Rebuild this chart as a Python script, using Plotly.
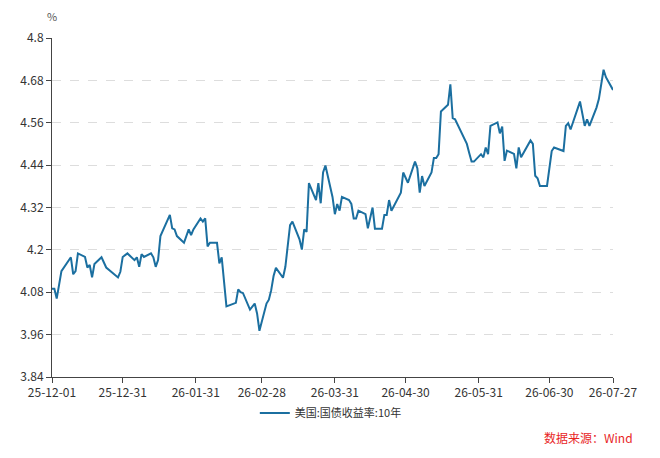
import plotly.graph_objects as go

# US 10Y treasury yield
dates = [
    '2025-12-01', '2025-12-02', '2025-12-03', '2025-12-04', '2025-12-05', '2025-12-09',
    '2025-12-10', '2025-12-11', '2025-12-12', '2025-12-15', '2025-12-16', '2025-12-17',
    '2025-12-18', '2025-12-19', '2025-12-22', '2025-12-24', '2025-12-29', '2025-12-30',
    '2025-12-31', '2026-01-02', '2026-01-05', '2026-01-06', '2026-01-07', '2026-01-08',
    '2026-01-09', '2026-01-12', '2026-01-13', '2026-01-14', '2026-01-15', '2026-01-16',
    '2026-01-20', '2026-01-21', '2026-01-22', '2026-01-23', '2026-01-26', '2026-01-28',
    '2026-01-29', '2026-01-30', '2026-02-02', '2026-02-03', '2026-02-04', '2026-02-05',
    '2026-02-06', '2026-02-09', '2026-02-10', '2026-02-11', '2026-02-13', '2026-02-17',
    '2026-02-18', '2026-02-19', '2026-02-20', '2026-02-23', '2026-02-25', '2026-02-26',
    '2026-02-27', '2026-03-02', '2026-03-03', '2026-03-04', '2026-03-05', '2026-03-06',
    '2026-03-09', '2026-03-10', '2026-03-12', '2026-03-13', '2026-03-16', '2026-03-17',
    '2026-03-18', '2026-03-19', '2026-03-20', '2026-03-23', '2026-03-24', '2026-03-25',
    '2026-03-26', '2026-03-27', '2026-03-30', '2026-03-31', '2026-04-01', '2026-04-02',
    '2026-04-03', '2026-04-06', '2026-04-07', '2026-04-08', '2026-04-09', '2026-04-10',
    '2026-04-13', '2026-04-14', '2026-04-16', '2026-04-17', '2026-04-20', '2026-04-21',
    '2026-04-22', '2026-04-23', '2026-04-24', '2026-04-28', '2026-04-29', '2026-05-01',
    '2026-05-04', '2026-05-05', '2026-05-06', '2026-05-07', '2026-05-08', '2026-05-11',
    '2026-05-12', '2026-05-13', '2026-05-14', '2026-05-15', '2026-05-18', '2026-05-19',
    '2026-05-20', '2026-05-21', '2026-05-26', '2026-05-27', '2026-05-28', '2026-05-29',
    '2026-06-01', '2026-06-02', '2026-06-03', '2026-06-04', '2026-06-05', '2026-06-08',
    '2026-06-09', '2026-06-10', '2026-06-11', '2026-06-12', '2026-06-15', '2026-06-16',
    '2026-06-17', '2026-06-18', '2026-06-22', '2026-06-23', '2026-06-24', '2026-06-25',
    '2026-06-26', '2026-06-29', '2026-06-30', '2026-07-01', '2026-07-02', '2026-07-06',
    '2026-07-07', '2026-07-08', '2026-07-09', '2026-07-13', '2026-07-15', '2026-07-16',
    '2026-07-17', '2026-07-20', '2026-07-21', '2026-07-23', '2026-07-24', '2026-07-27',
]
yield_10y = [
    4.090, 4.090, 4.062, 4.105, 4.140, 4.179,
    4.131, 4.140, 4.190, 4.180, 4.150, 4.157,
    4.122, 4.160, 4.179, 4.150, 4.122, 4.138,
    4.180, 4.190, 4.171, 4.179, 4.152, 4.188,
    4.180, 4.190, 4.179, 4.152, 4.171, 4.239,
    4.299, 4.261, 4.258, 4.239, 4.220, 4.258,
    4.242, 4.258, 4.289, 4.280, 4.289, 4.210,
    4.220, 4.220, 4.162, 4.179, 4.040, 4.050,
    4.088, 4.080, 4.078, 4.031, 4.048, 4.020,
    3.971, 4.048, 4.059, 4.086, 4.126, 4.149,
    4.121, 4.152, 4.270, 4.280, 4.230, 4.201,
    4.258, 4.251, 4.389, 4.341, 4.389, 4.332,
    4.419, 4.439, 4.350, 4.301, 4.330, 4.311,
    4.350, 4.341, 4.330, 4.289, 4.289, 4.311,
    4.301, 4.261, 4.320, 4.260, 4.260, 4.299,
    4.299, 4.341, 4.311, 4.362, 4.419, 4.390,
    4.450, 4.431, 4.362, 4.409, 4.381, 4.419,
    4.460, 4.460, 4.471, 4.592, 4.611, 4.669,
    4.573, 4.570, 4.500, 4.474, 4.450, 4.450,
    4.471, 4.462, 4.490, 4.471, 4.551, 4.561,
    4.530, 4.549, 4.452, 4.481, 4.472, 4.431,
    4.490, 4.462, 4.510, 4.500, 4.410, 4.403,
    4.381, 4.381, 4.440, 4.480, 4.490, 4.480,
    4.551, 4.559, 4.541, 4.620, 4.551, 4.570,
    4.551, 4.603, 4.627, 4.710, 4.689, 4.653,
]

x_tick_dates = ['2025-12-01', '2025-12-31', '2026-01-31', '2026-02-28', '2026-03-31',
                '2026-04-30', '2026-05-31', '2026-06-30', '2026-07-27']
x_tick_labels = ['25-12-01', '25-12-31', '26-01-31', '26-02-28', '26-03-31',
                 '26-04-30', '26-05-31', '26-06-30', '26-07-27']
y_ticks = [3.84, 3.96, 4.08, 4.2, 4.32, 4.44, 4.56, 4.68, 4.8]
y_tick_labels = ['3.84', '3.96', '4.08', '4.2', '4.32', '4.44', '4.56', '4.68', '4.8']

font_family = 'Noto Sans CJK SC, Noto Sans, sans-serif'
axis_color = '#444444'

fig = go.Figure()
fig.add_trace(go.Scatter(
    x=dates, y=yield_10y, mode='lines', name='美国:国债收益率:10年',
    line=dict(color='#1b6fa0', width=2),
))

# page body adds an 8px offset, so margins are shifted to match the reference
fig.update_layout(
    width=660, height=458,
    margin=dict(l=40, r=55, t=30, b=89),
    plot_bgcolor='white', paper_bgcolor='white',
    font=dict(family=font_family, size=12, color='#333333'),
    showlegend=True,
    legend=dict(orientation='h', x=0.497, xanchor='center', y=-0.106, yanchor='middle',
                font=dict(size=11), itemwidth=30),
    xaxis=dict(
        type='date', range=['2025-12-01', '2026-07-27'],
        tickvals=x_tick_dates, ticktext=x_tick_labels,
        showgrid=False, showline=True, linecolor=axis_color, linewidth=1,
        ticks='outside', ticklen=5, tickcolor=axis_color,
        tickfont=dict(size=12, color='#333333'),
    ),
    yaxis=dict(
        range=[3.84, 4.8], tickvals=y_ticks, ticktext=y_tick_labels,
        showgrid=True, gridcolor='#dddddd', griddash='dash', gridwidth=1,
        showline=True, linecolor=axis_color, linewidth=1,
        ticks='outside', ticklen=5, tickcolor=axis_color,
        tickfont=dict(size=12, color='#333333'), zeroline=False,
    ),
    annotations=[
        dict(text='%', xref='paper', yref='paper', x=0, y=1, xanchor='center',
             yanchor='bottom', yshift=12, showarrow=False,
             font=dict(size=11, color='#555555')),
        dict(text='数据来源：Wind', xref='paper', yref='paper', x=1.039, y=-0.177,
             xanchor='right', yanchor='middle', showarrow=False,
             font=dict(size=12, color='#e8251f')),
    ],
)

fig.write_html('out.html')
